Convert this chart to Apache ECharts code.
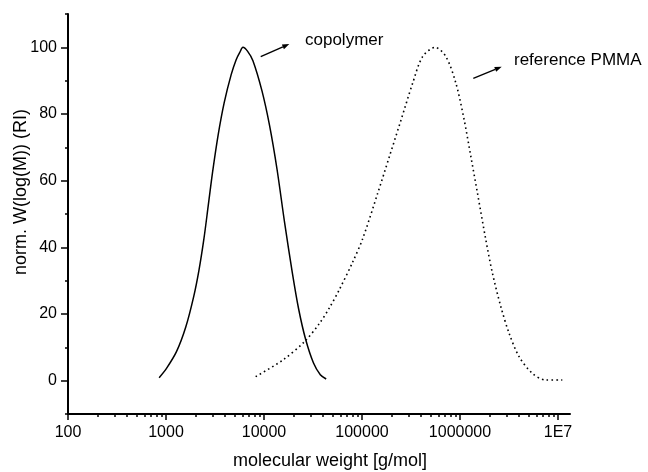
<!DOCTYPE html>
<html>
<head>
<meta charset="utf-8">
<script src="https://cdn.jsdelivr.net/npm/echarts@6/dist/echarts.min.js"></script>
<style>
html,body{margin:0;padding:0;background:#fff;}
#chart{width:648px;height:472px;}
</style>
</head>
<body>
<div id="chart"></div>
<script>
// ---- data ----
const copolymerM = [851, 1012, 1279, 1591, 1919, 2168, 2438, 2697, 2982, 3409, 3925, 4624, 5198, 5643, 6098, 6808, 7709, 9519, 11400, 13565, 16210, 19420, 22560, 26530, 31990, 37530, 43090];
const copolymerW = [0.9, 3.7, 8.7, 16.1, 25.3, 33.1, 42.6, 52.5, 62.4, 73.8, 83.4, 91.8, 96.3, 98.4, 100, 98.8, 96.0, 87.0, 76.5, 63.5, 47.5, 32.5, 21.5, 12.5, 5.3, 1.8, 0.5];
const pmmaM = [8212, 15580, 25910, 36830, 46560, 58880, 80400, 101650, 144500, 190100, 250100, 328300, 415100, 559200, 718500, 908300, 1103000, 1291000, 1508000, 1835000, 2143000, 2609000, 3170000, 4008000, 5473000, 7495000, 11060000];
const pmmaW = [1.2, 6.2, 11.7, 17.2, 21.9, 27.4, 35.6, 42.6, 56.2, 67.2, 78.2, 89.2, 97.2, 100, 97.2, 89.2, 78.2, 67.2, 56.2, 42.2, 32.2, 22.2, 14.2, 7.2, 2.2, 0.2, 0.2];
const xMajorTicks = [100, 1000, 10000, 100000, 1000000, 10000000];
const xTickLabels = ['100', '1000', '10000', '100000', '1000000', '1E7'];
const yMajorTicks = [0, 20, 40, 60, 80, 100];
const yMinorTicks = [-10, 10, 30, 50, 70, 90, 110];
const xMin = 100, xMax = 13250000, yMin = -10, yMax = 110;
const xTitle = 'molecular weight [g/mol]';
const yTitle = 'norm. W(log(M)) (RI)';
const annotations = ['copolymer', 'reference PMMA'];

const xMinorTicks = [];
for (let d = 100; d < 10000000; d *= 10) {
  for (let k = 2; k <= 9; k++) xMinorTicks.push(k * d);
}

const FONT = '"Liberation Sans", Arial, sans-serif';
const zip = (a, b) => a.map((v, i) => [v, b[i]]);

function arrow(x1, y1, x2, y2) {
  const dx = x2 - x1, dy = y2 - y1, len = Math.hypot(dx, dy);
  const ux = dx / len, uy = dy / len, nx = -uy, ny = ux;
  const hl = 7, hw = 2.6;
  const bx = x2 - hl * ux, by = y2 - hl * uy;
  return [
    { type: 'line', shape: { x1: x1, y1: y1, x2: bx, y2: by }, style: { stroke: '#000', lineWidth: 1.4 } },
    { type: 'polygon', shape: { points: [[x2, y2], [bx + hw * nx, by + hw * ny], [bx - hw * nx, by - hw * ny]] }, style: { fill: '#000' } }
  ];
}

const chart = echarts.init(document.getElementById('chart'), null, { renderer: 'canvas' });

const axisLineStyle = { color: '#000', width: 2 };
const tickStyle = { color: '#000', width: 1.5 };

chart.setOption({
  backgroundColor: '#fff',
  animation: false,
  grid: { left: 68, right: 78, top: 14, bottom: 58, containLabel: false },
  xAxis: [
    {
      type: 'log', logBase: 10, min: xMin, max: xMax, position: 'bottom',
      axisLine: { show: true, onZero: false, lineStyle: axisLineStyle },
      axisTick: { show: true, inside: false, length: 6, lineStyle: tickStyle, customValues: xMajorTicks },
      axisLabel: {
        show: true, margin: 11, color: '#000', fontFamily: FONT, fontSize: 16,
        customValues: xMajorTicks,
        formatter: function (v) { const i = xMajorTicks.findIndex(t => Math.abs(t - v) / t < 1e-6); return i >= 0 ? xTickLabels[i] : ''; }
      },
      splitLine: { show: false }
    },
    {
      type: 'log', logBase: 10, min: xMin, max: xMax, position: 'bottom', offset: 0,
      axisLine: { show: false, onZero: false },
      axisTick: { show: true, inside: false, length: 3, lineStyle: tickStyle, customValues: xMinorTicks },
      axisLabel: { show: false },
      splitLine: { show: false }
    }
  ],
  yAxis: [
    {
      type: 'value', min: yMin, max: yMax, position: 'left',
      axisLine: { show: true, onZero: false, lineStyle: axisLineStyle },
      axisTick: { show: true, inside: false, length: 7, lineStyle: tickStyle, customValues: yMajorTicks },
      axisLabel: { show: true, margin: 11, color: '#000', fontFamily: FONT, fontSize: 16, customValues: yMajorTicks },
      splitLine: { show: false }
    },
    {
      type: 'value', min: yMin, max: yMax, position: 'left', offset: 0,
      axisLine: { show: false, onZero: false },
      axisTick: { show: true, inside: false, length: 3, lineStyle: tickStyle, customValues: yMinorTicks },
      axisLabel: { show: false },
      splitLine: { show: false }
    }
  ],
  series: [
    {
      name: 'copolymer', type: 'line', xAxisIndex: 0, yAxisIndex: 0,
      data: zip(copolymerM, copolymerW), showSymbol: false, smooth: 0.3,
      lineStyle: { color: '#000', width: 1.5 }
    },
    {
      name: 'reference PMMA', type: 'line', xAxisIndex: 0, yAxisIndex: 0,
      data: zip(pmmaM, pmmaW), showSymbol: false, smooth: 0.3,
      lineStyle: { color: '#000', width: 1.6, type: [1.6, 3.2] }
    }
  ],
  graphic: [
    { type: 'text', x: 305, y: 40, style: { text: annotations[0], fill: '#000', font: '17px ' + FONT, verticalAlign: 'middle' } },
    { type: 'text', x: 514, y: 60, style: { text: annotations[1], fill: '#000', font: '17px ' + FONT, verticalAlign: 'middle' } },
    ...arrow(260.7, 56.7, 289.3, 44),
    ...arrow(473.3, 78.3, 501.7, 66.7),
    { type: 'text', x: 330, y: 461, style: { text: xTitle, fill: '#000', font: '18px ' + FONT, align: 'center', verticalAlign: 'middle' } },
    { type: 'text', x: 21, y: 192, rotation: Math.PI / 2, style: { text: yTitle, fill: '#000', font: '18px ' + FONT, align: 'center', verticalAlign: 'middle' } }
  ]
});
</script>
</body>
</html>
